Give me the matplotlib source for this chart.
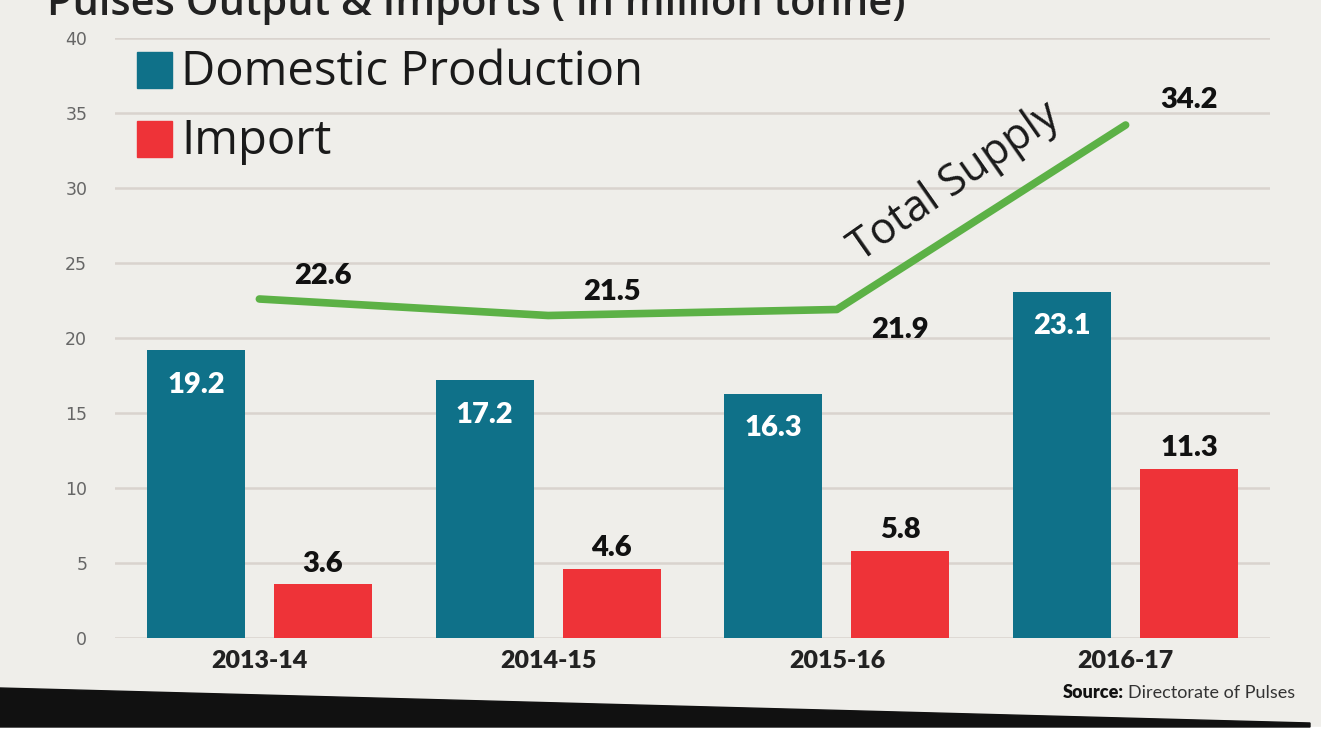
import matplotlib
matplotlib.use("Agg")
import matplotlib.pyplot as plt
from matplotlib.patches import Polygon, Rectangle

# data (million tonne)
years = ["2013-14", "2014-15", "2015-16", "2016-17"]
domestic = [19.2, 17.2, 16.3, 23.1]
imports = [3.6, 4.6, 5.8, 11.3]
total_supply = [22.6, 21.5, 21.9, 34.2]

W, H = 1321, 752
bg = "#efeeea"
teal = "#0f7189"
red = "#ee3338"
green = "#5cb146"

fig = plt.figure(figsize=(W / 100, H / 100), dpi=100)
fig.patch.set_facecolor(bg)

# axes placed in pixels of the reference
ax = fig.add_axes([115 / W, 1 - 638 / H, (1270 - 115) / W, (638 - 38) / H])
ax.set_facecolor(bg)

x = list(range(len(years)))
bw = 0.34
off = 0.22

ax.bar([i - off for i in x], domestic, bw, color=teal, zorder=3)
ax.bar([i + off for i in x], imports, bw, color=red, zorder=3)
ax.plot(x, total_supply, color=green, lw=5.5, solid_capstyle="round", zorder=4)

# value labels
for i, v in enumerate(domestic):
    ax.text(i - off, v - 2.3, f"{v}", color="white", fontsize=21, fontweight="heavy",
            family="Lato", ha="center", va="center", zorder=5)
for i, v in enumerate(imports):
    ax.text(i + off, v + 0.5, f"{v}", color="#111111", fontsize=21, fontweight="heavy",
            family="Lato", ha="center", va="bottom", zorder=5)
shift = [1.5, 1.55, -1.4, 1.65]
for i, v in enumerate(total_supply):
    ax.text(i + off, v + shift[i], f"{v}", color="#111111", fontsize=21, fontweight="heavy",
            family="Lato", ha="center", va="center", zorder=5)

ax.text(2.41, 30.4, "Total Supply", rotation=35, rotation_mode="anchor",
        fontsize=31, family="Open Sans", color="#1a1a1a", ha="center", va="center", zorder=5)

ax.set_xlim(-0.5, 3.5)
ax.set_ylim(0, 40)
ax.set_yticks(range(0, 41, 5))
ax.grid(axis="y", color="#d9d3ce", lw=1.8, zorder=0)
ax.set_axisbelow(True)
for s in ax.spines.values():
    s.set_visible(False)
ax.tick_params(axis="y", length=0, pad=20, labelsize=12.5, labelcolor="#666666")
ax.set_xticks(x)
ax.set_xticklabels(years, fontsize=18, fontweight="heavy", family="Lato", color="#222222")
ax.tick_params(axis="x", length=0, pad=9)

# legend drawn by hand in pixel positions
for y0, col, lab in [(52, teal, "Domestic Production"), (121, red, "Import")]:
    fig.patches.append(Rectangle((137 / W, 1 - (y0 + 36) / H), 35 / W, 36 / H,
                                 transform=fig.transFigure, color=col, zorder=6))
    fig.text(181 / W, 1 - (y0 + 20) / H, lab, fontsize=34, family="Open Sans",
             color="#1a1a1a", ha="left", va="center", zorder=6)

# title, cut off at the top as in the reference
fig.text(47 / W, 1 - 15 / H, "Pulses Output & Imports ( in million tonne)",
         fontsize=30, family="Open Sans", fontweight="semibold", color="#222222",
         ha="left", va="baseline")

# source: regular part right aligned, bold part placed to its left
src = fig.text(1295 / W, 1 - 693 / H, "Directorate of Pulses", fontsize=13,
               family="Lato", color="#333333", ha="right", va="center")
fig.canvas.draw()
bb = src.get_window_extent()
fig.text((bb.x0 - 4) / W, 1 - 693 / H, "Source:", fontsize=13, fontweight="heavy",
         family="Lato", color="#111111", ha="right", va="center")

# black wedge and white strip at the bottom
fig.patches.append(Rectangle((0, 0), 1, 1 - 727 / H, transform=fig.transFigure,
                             color="white", zorder=1))
fig.patches.append(Polygon([(0, 1 - 688 / H), (1310 / W, 1 - 723 / H),
                            (1310 / W, 1 - 727 / H), (0, 1 - 727 / H)],
                           closed=True, transform=fig.transFigure,
                           color="#111111", zorder=1))

fig.savefig("out.png", dpi=100, facecolor=bg)
